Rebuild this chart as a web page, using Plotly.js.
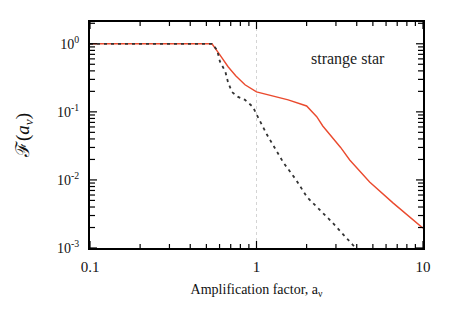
<!DOCTYPE html>
<html>
<head>
<meta charset="utf-8">
<script src="https://cdn.plot.ly/plotly-3.0.1.min.js"></script>
<style>html,body{margin:0;padding:0;background:#fff;}#chart{width:452px;height:317px;}</style>
</head>
<body>
<div id="chart"></div>
<script>
var redX = [0.1, 0.54, 0.6, 0.675, 0.75, 0.853, 1.0, 1.2, 1.55, 2.0, 2.3, 2.5, 2.84, 3.2, 3.63, 4.78, 6.6, 10];
var redY = [1, 1, 0.7, 0.46, 0.34, 0.25, 0.196, 0.175, 0.15, 0.122, 0.085, 0.062, 0.043, 0.03, 0.0196, 0.0093, 0.0046, 0.00196];
var blackX = [0.1, 0.54, 0.58, 0.603, 0.65, 0.675, 0.713, 0.775, 0.853, 0.953, 1.0, 1.157, 1.45, 1.73, 2.01, 2.37, 2.84, 3.8, 4.1];
var blackY = [1, 1, 0.81, 0.55, 0.39, 0.27, 0.195, 0.166, 0.15, 0.118, 0.092, 0.046, 0.018, 0.01, 0.0056, 0.0037, 0.0024, 0.0011, 0.00092];
var xTickVals = [0.1, 1, 10];
var xTickText = ['0.1', '1', '10'];
var yTickVals = [0.001, 0.01, 0.1, 1];
var yTickText = ['10<sup>-3</sup>', '10<sup>-2</sup>', '10<sup>-1</sup>', '10<sup>0</sup>'];
var labelText = 'strange star';
var xTitle = 'Amplification factor, a<sub>ν</sub>';
var yTitle = 'ℱ(<i>a</i><sub><i>ν</i></sub>)';

var W = 452, H = 317, M = {l: 90, r: 29, t: 22, b: 69};
var xRange = [-1, 1], yRange = [-3, 0.32];

// minor tick positions (2..9 within each decade) derived from the major ticks
function minorTicks(majors) {
  var out = [];
  for (var i = 0; i < majors.length - 1; i++) {
    for (var k = 2; k <= 9; k++) out.push(majors[i] * k);
  }
  return out;
}
var xMinor = minorTicks(xTickVals);
var yMinor = minorTicks(yTickVals.concat([10])).filter(function (v) { return v < Math.pow(10, yRange[1]); });

// inward tick marks on all four sides, converted from pixel lengths through the log scales
var pxPerDecX = (W - M.l - M.r) / (xRange[1] - xRange[0]);
var pxPerDecY = (H - M.t - M.b) / (yRange[1] - yRange[0]);
var tx = [], ty = [];
function xTicks(vals, len) {
  var d = len / pxPerDecY;
  vals.forEach(function (v) {
    tx.push(v, v, null, v, v, null);
    ty.push(Math.pow(10, yRange[0]), Math.pow(10, yRange[0] + d), null,
            Math.pow(10, yRange[1]), Math.pow(10, yRange[1] - d), null);
  });
}
function yTicks(vals, len) {
  var d = len / pxPerDecX;
  vals.forEach(function (v) {
    ty.push(v, v, null, v, v, null);
    tx.push(Math.pow(10, xRange[0]), Math.pow(10, xRange[0] + d), null,
            Math.pow(10, xRange[1]), Math.pow(10, xRange[1] - d), null);
  });
}
xTicks(xTickVals, 7);
xTicks(xMinor, 4);
yTicks(yTickVals, 7);
yTicks(yMinor, 5);

var font = 'Liberation Serif';
var traces = [
  {x: redX, y: redY, mode: 'lines', line: {color: '#ea4a2e', width: 1.4}, hoverinfo: 'skip'},
  {x: blackX, y: blackY, mode: 'lines', line: {color: '#333333', width: 1.8, dash: '3px,4px'}, hoverinfo: 'skip'},
  {x: tx, y: ty, mode: 'lines', connectgaps: false, line: {color: '#000000', width: 1.2}, hoverinfo: 'skip'}
];
var layout = {
  width: W, height: H,
  margin: M,
  paper_bgcolor: '#ffffff', plot_bgcolor: '#ffffff',
  showlegend: false,
  font: {family: font, size: 13, color: '#111'},
  xaxis: {
    type: 'log', range: xRange,
    tickmode: 'array', tickvals: xTickVals, ticktext: xTickText,
    ticks: '', ticklabelstandoff: 4,
    showline: true, linecolor: 'black', linewidth: 2, mirror: true,
    showgrid: true, gridcolor: '#d4d4d4', griddash: 'dot', gridwidth: 1,
    zeroline: false,
    tickfont: {family: font, size: 15, color: '#111'},
    title: {text: xTitle, font: {family: font, size: 14, color: '#111'}, standoff: 10}
  },
  yaxis: {
    type: 'log', range: yRange,
    tickmode: 'array', tickvals: yTickVals, ticktext: yTickText,
    ticks: '', ticklabelstandoff: 6,
    showline: true, linecolor: 'black', linewidth: 2, mirror: true,
    showgrid: false, zeroline: false,
    tickfont: {family: font, size: 14, color: '#111'},
    title: {text: yTitle, font: {family: font, size: 19, color: '#111'}, standoff: 22}
  },
  annotations: [
    {text: labelText, xref: 'paper', yref: 'paper', x: 0.775, y: 0.836,
     xanchor: 'center', yanchor: 'middle', showarrow: false,
     font: {family: font, size: 16, color: '#222'}}
  ]
};
Plotly.newPlot('chart', traces, layout, {displayModeBar: false});
</script>
</body>
</html>
